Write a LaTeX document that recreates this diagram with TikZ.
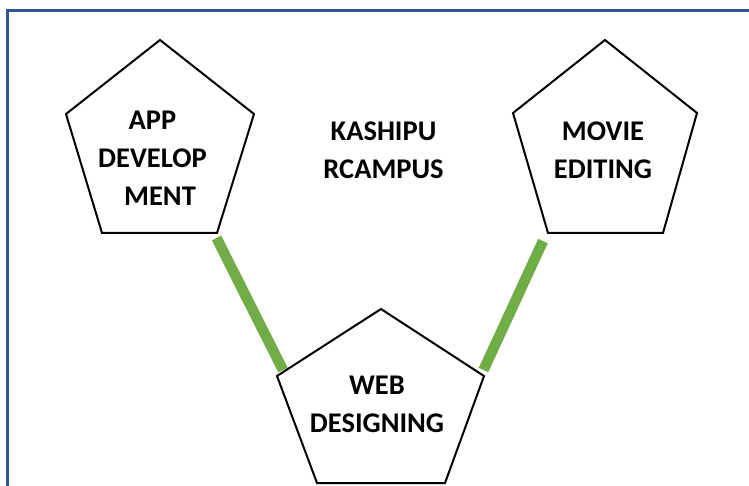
\documentclass[tikz,border=0pt]{standalone}
\usepackage{fontspec}
\setmainfont{Carlito}
\definecolor{frameblue}{HTML}{2F5597}
\definecolor{linkgreen}{HTML}{70AD47}
\begin{document}
\begin{tikzpicture}[x=1pt,y=-1pt,
  penta/.style={draw=black,line width=2pt,line join=miter},
  label/.style={inner sep=0pt,align=center,font=\fontsize{28.5}{38}\selectfont\bfseries},
  link/.style={draw=linkgreen,line width=10.5pt,line cap=butt}]
\useasboundingbox (0,0) rectangle (749,486);
\draw[frameblue,line width=3pt] (7.5,486) -- (7.5,10.5) -- (749,10.5);
% pentagons
\draw[penta] (160,40) -- (254,114) -- (217,233) -- (102,233) -- (66,114) -- cycle;
\draw[penta] (605,40) -- (697,113) -- (663,233) -- (548,233) -- (513,113) -- cycle;
\draw[penta] (381,309) -- (484,376) -- (445,483) -- (317,483) -- (277,376) -- cycle;
% texts
\node[label] (app) at (152.5,158) {APP\\DEVELOP\\\hspace*{15pt}MENT};
\node[label] (movie) at (603,150.5) {MOVIE\\EDITING};
\node[label] (web) at (377,404.5) {WEB\\DESIGNING};
\node[label] (campus) at (383.5,150.5) {KASHIPU\\RCAMPUS};
% connectors
\coordinate (appout) at (216.5,238);
\coordinate (webinl) at (283,370);
\coordinate (movieout) at (543,241);
\coordinate (webinr) at (483.5,370);
\draw[link] (appout) -- (webinl);
\draw[link] (movieout) -- (webinr);
\end{tikzpicture}
\end{document}
